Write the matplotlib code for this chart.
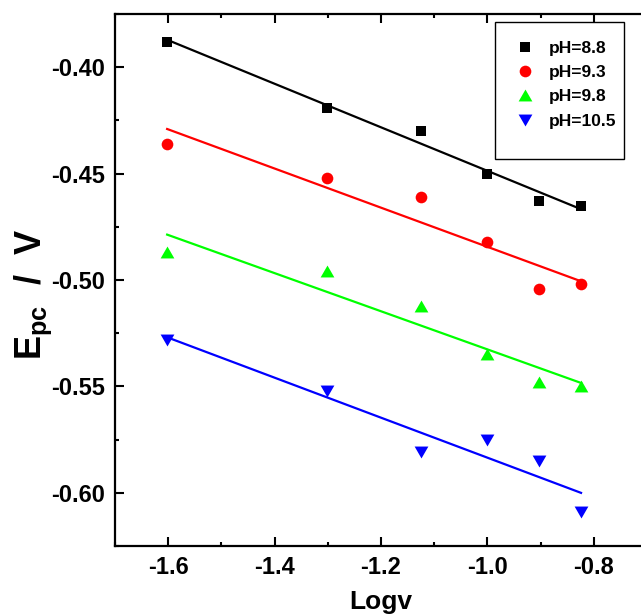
import numpy as np
import matplotlib
matplotlib.use("Agg")
import matplotlib.pyplot as plt
from matplotlib.lines import Line2D
from matplotlib.patches import Rectangle
from matplotlib.ticker import MultipleLocator, FormatStrFormatter

plt.rcParams['font.family'] = ['Liberation Sans', 'DejaVu Sans']
plt.rcParams['font.weight'] = 'bold'
plt.rcParams['mathtext.fontset'] = 'custom'
plt.rcParams['mathtext.rm'] = 'Liberation Sans:bold'
plt.rcParams['mathtext.bf'] = 'Liberation Sans:bold'
plt.rcParams['mathtext.it'] = 'Liberation Sans:bold'

# scan rates (log v) and cathodic peak potentials for each pH
log_v = [-1.602, -1.301, -1.125, -1.000, -0.903, -0.824]
epc_ph88 = [-0.388, -0.419, -0.430, -0.450, -0.463, -0.465]
epc_ph93 = [-0.436, -0.452, -0.461, -0.482, -0.504, -0.502]
epc_ph98 = [-0.487, -0.496, -0.512, -0.535, -0.548, -0.550]
epc_ph105 = [-0.528, -0.552, -0.581, -0.575, -0.585, -0.609]
labels = ['pH=8.8', 'pH=9.3', 'pH=9.8', 'pH=10.5']

tri_up = [(-1, -0.866), (1, -0.866), (0, 0.866)]
tri_down = [(-1, 0.866), (1, 0.866), (0, -0.866)]
styles = [
    dict(color='#000000', marker='s', ms=7.4),
    dict(color='#FF0000', marker='o', ms=8.4),
    dict(color='#00FF00', marker=tri_up, ms=9.9),
    dict(color='#0000FF', marker=tri_down, ms=9.9),
]
series = [epc_ph88, epc_ph93, epc_ph98, epc_ph105]

fig = plt.figure(figsize=(6.41, 6.16), dpi=100)
ax = fig.add_axes([115 / 641, 70 / 616, 532 / 641, 532 / 616])

x = np.array(log_v)
handles = []
for ys, st in zip(series, styles):
    y = np.array(ys)
    k, b = np.polyfit(x, y, 1)
    xl = np.array([x.min(), x.max()])
    ax.plot(xl, k * xl + b, color=st['color'], lw=1.6, zorder=2)
    ax.plot(x, y, linestyle='none', marker=st['marker'], ms=st['ms'],
            color=st['color'], mec=st['color'], mew=0, zorder=3)
    handles.append(Line2D([], [], linestyle='none', marker=st['marker'],
                          ms=st['ms'], color=st['color'], mew=0))

ax.set_xlim(-1.7, -0.7)
ax.set_ylim(-0.625, -0.375)

ax.xaxis.set_major_locator(MultipleLocator(0.2))
ax.xaxis.set_minor_locator(MultipleLocator(0.1))
ax.yaxis.set_major_locator(MultipleLocator(0.05))
ax.yaxis.set_minor_locator(MultipleLocator(0.025))
ax.xaxis.set_major_formatter(FormatStrFormatter('%.1f'))
ax.yaxis.set_major_formatter(FormatStrFormatter('%.2f'))

for s in ax.spines.values():
    s.set_linewidth(1.6)

ax.tick_params(axis='both', which='major', direction='in', length=6.5,
               width=1.5, labelsize=17, pad=7)
ax.tick_params(axis='both', which='minor', direction='in', length=3.2,
               width=1.5)
ax.tick_params(axis='x', which='both', top=True)

ax.set_xlabel('Logv', fontsize=19, fontweight='bold', labelpad=8)
ax.set_ylabel(r'E$_{\mathbf{pc}}$  /  V', fontsize=26, fontweight='bold')
ax.yaxis.set_label_coords(-0.115, 0.472)

# legend box
ax.add_patch(Rectangle((0.7143, 0.7274), 0.2425, 0.2576, transform=ax.transAxes,
                       fill=False, ec='#000000', lw=1.0, zorder=5))
leg = ax.legend(handles, labels, loc='upper left', bbox_to_anchor=(0.752, 0.95),
                frameon=False, fontsize=12.5, handlelength=1.15,
                handletextpad=0.8, labelspacing=0.53, borderpad=0,
                borderaxespad=0)
for t in leg.get_texts():
    t.set_fontweight('bold')

fig.savefig('out.png', dpi=100)
